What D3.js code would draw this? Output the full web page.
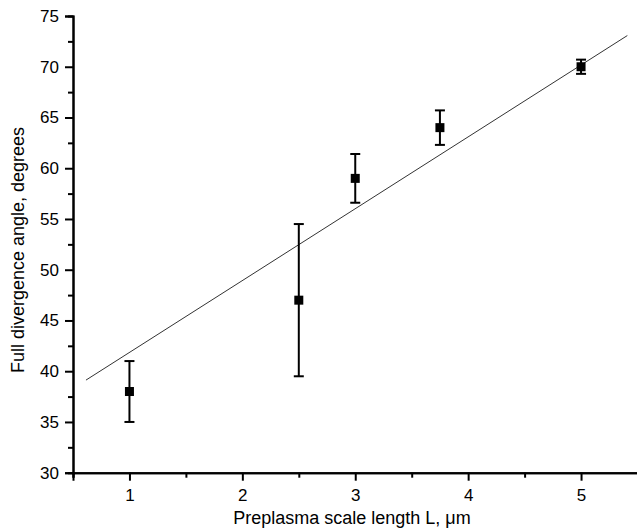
<!DOCTYPE html>
<html><head><meta charset="utf-8">
<script src="https://cdn.jsdelivr.net/npm/d3@7"></script>
<style>body{margin:0;background:#fff}text{font-family:"Liberation Sans",Arial,sans-serif;fill:#000}.tick text{font-size:17px}</style>
</head><body><svg id="c" width="637" height="531"></svg>
<script>
const xVals = [1, 2.5, 3, 3.75, 5];
const yVals = [38, 47, 59, 64, 70];
const yErrLow = [3, 7.5, 2.4, 1.7, 0.7];
const yErrHigh = [3, 7.5, 2.4, 1.7, 0.7];
const fitSlope = 7.08, fitIntercept = 34.77;
const fitRange = [0.615, 5.41];
const xTicks = [1, 2, 3, 4, 5];
const xMinor = [0.5, 1.5, 2.5, 3.5, 4.5, 5.5];
const yTicks = [30, 35, 40, 45, 50, 55, 60, 65, 70, 75];
const yMinor = [32.5, 37.5, 42.5, 47.5, 52.5, 57.5, 62.5, 67.5, 72.5];

const svg = d3.select("#c");
const x = d3.scaleLinear().domain([0.5, 5.5]).range([73, 637.5]);
const y = d3.scaleLinear().domain([30, 75]).range([472.7, 16]);

// fit line
const fitPts = fitRange.map(v => [v, fitIntercept + fitSlope * v]);
svg.append("path").attr("d", d3.line().x(d => x(d[0])).y(d => y(d[1]))(fitPts))
  .attr("stroke", "#333").attr("stroke-width", 1).attr("fill", "none");

// axes
const xAxis = svg.append("g").attr("transform", "translate(0,472.7)");
xAxis.call(d3.axisBottom(x).tickValues(xMinor).tickSize(5).tickFormat(""));
xAxis.append("g").call(d3.axisBottom(x).tickValues(xTicks).tickSize(8).tickPadding(8).tickFormat(d3.format("d")));

const yAxis = svg.append("g").attr("transform", "translate(73,0)");
yAxis.call(d3.axisLeft(y).tickValues(yMinor).tickSize(5).tickFormat(""));
yAxis.append("g").call(d3.axisLeft(y).tickValues(yTicks).tickSize(8).tickPadding(6).tickFormat(d3.format("d")));

svg.selectAll("path.domain").attr("stroke", "#000").attr("stroke-width", 2);
svg.selectAll(".tick line").attr("stroke", "#000").attr("stroke-width", 2);
svg.selectAll("g").attr("font-family", null).attr("font-size", null);
svg.selectAll(".tick text").attr("font-size", 17).style("font-size", "17px");

// error bars
const data = xVals.map((v, i) => ({x: v, y: yVals[i], lo: yVals[i] - yErrLow[i], hi: yVals[i] + yErrHigh[i]}));
const eb = svg.append("g").attr("stroke", "#000").attr("stroke-width", 2);
data.forEach(d => {
  eb.append("line").attr("x1", x(d.x)).attr("x2", x(d.x)).attr("y1", y(d.lo)).attr("y2", y(d.hi));
  eb.append("line").attr("x1", x(d.x) - 5).attr("x2", x(d.x) + 5).attr("y1", y(d.lo)).attr("y2", y(d.lo));
  eb.append("line").attr("x1", x(d.x) - 5).attr("x2", x(d.x) + 5).attr("y1", y(d.hi)).attr("y2", y(d.hi));
});
svg.append("g").selectAll("rect").data(data).join("rect")
  .attr("x", d => x(d.x) - 4.5).attr("y", d => y(d.y) - 4.5)
  .attr("width", 9).attr("height", 9).attr("fill", "#000");

// titles
svg.append("text").attr("x", 352).attr("y", 524).attr("text-anchor", "middle")
  .style("font-size", "18px").text("Preplasma scale length L, μm");
svg.append("text").attr("transform", "translate(24,250) rotate(-90)").attr("text-anchor", "middle")
  .style("font-size", "18px").text("Full divergence angle, degrees");
</script></body></html>
